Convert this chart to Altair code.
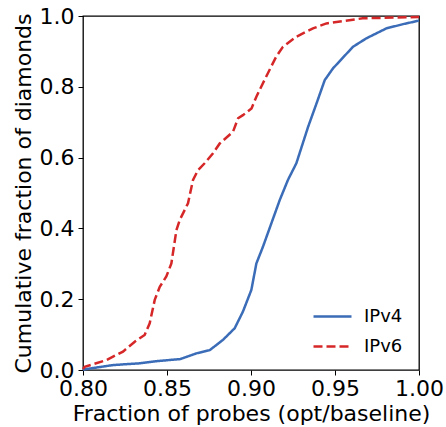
import altair as alt
import pandas as pd

ipv4_x = [0.800, 0.801, 0.818, 0.834, 0.844, 0.858, 0.8675, 0.8754, 0.8833, 0.8903, 0.8952,
          0.9002, 0.9032, 0.9071, 0.9121, 0.9171, 0.9220, 0.927, 0.934, 0.939, 0.9439, 0.9488,
          0.9607, 0.9687, 0.9806, 0.9905, 1.000]
ipv4_y = [0.000, 0.002, 0.014, 0.019, 0.025, 0.031, 0.047, 0.056, 0.085, 0.118, 0.165,
          0.226, 0.301, 0.348, 0.414, 0.480, 0.537, 0.584, 0.687, 0.753, 0.819, 0.852,
          0.913, 0.937, 0.965, 0.977, 0.987]

ipv6_x = [0.800, 0.801, 0.8139, 0.8238, 0.8308, 0.8367, 0.8397, 0.8427, 0.8457, 0.8496, 0.8526,
          0.8556, 0.8576, 0.8625, 0.8655, 0.8685, 0.8724, 0.8774, 0.8814, 0.8893, 0.8923, 0.8952,
          0.9003, 0.9032, 0.909, 0.915, 0.919, 0.927, 0.9369, 0.9449, 0.9665, 1.000]
ipv6_y = [0.003, 0.009, 0.028, 0.052, 0.080, 0.099, 0.132, 0.198, 0.235, 0.264, 0.301,
          0.395, 0.424, 0.471, 0.537, 0.565, 0.584, 0.612, 0.640, 0.673, 0.711, 0.720,
          0.739, 0.772, 0.8285, 0.885, 0.913, 0.9415, 0.965, 0.979, 0.9935, 0.997]

series = ["IPv4", "IPv6"]
x_ticks = [0.80, 0.85, 0.90, 0.95, 1.00]
y_ticks = [0.0, 0.2, 0.4, 0.6, 0.8, 1.0]

rows = []
for name, xs, ys in [("IPv4", ipv4_x, ipv4_y), ("IPv6", ipv6_x, ipv6_y)]:
    for i, (a, b) in enumerate(zip(xs, ys)):
        rows.append({"series": name, "x": a, "y": b, "i": i})
df = pd.DataFrame(rows)

FONT = "DejaVu Sans"

chart = alt.Chart(df).mark_line(strokeWidth=2.5).encode(
    x=alt.X("x:Q", scale=alt.Scale(domain=[0.8, 1.0], nice=False, zero=False),
            axis=alt.Axis(values=x_ticks, format=".2f", title="Fraction of probes (opt/baseline)",
                          grid=False, domain=False, tickColor="black", tickSize=5,
                          labelPadding=3, labelFontSize=22, titleFontSize=22,
                          labelColor="black", titleColor="black", titleFontWeight="normal",
                          labelFont=FONT, titleFont=FONT, titlePadding=4,
                          labelFlush=False, labelOverlap=False)),
    y=alt.Y("y:Q", scale=alt.Scale(domain=[0, 1], nice=False),
            axis=alt.Axis(values=y_ticks, format=".1f", title="Cumulative fraction of diamonds",
                          grid=False, domain=False, tickColor="black", tickSize=5,
                          labelPadding=4, labelFontSize=22, titleFontSize=22,
                          labelColor="black", titleColor="black", titleFontWeight="normal",
                          labelFont=FONT, titleFont=FONT, titlePadding=4,
                          labelFlush=False, labelOverlap=False)),
    color=alt.Color("series:N", scale=alt.Scale(domain=series, range=["#3b6cb7", "#d62728"]),
                    legend=alt.Legend(title=None, orient="none", legendX=229, legendY=280,
                                      symbolType="stroke", symbolSize=1444, symbolStrokeWidth=2.5,
                                      labelFontSize=18, labelFont=FONT, labelColor="black",
                                      labelOffset=11, rowPadding=-4)),
    strokeDash=alt.StrokeDash("series:N", scale=alt.Scale(domain=series, range=[[1, 0], [9, 4]]),
                              legend=None),
    order="i:Q",
).properties(
    width=336, height=354,
    autosize=alt.AutoSizeParams(type="none"),
    padding={"left": 83, "top": 16, "right": 27, "bottom": 57},
).configure_view(stroke="black", strokeWidth=1.3)

chart.save("out.html", embed_options={"renderer": "svg", "actions": False})
